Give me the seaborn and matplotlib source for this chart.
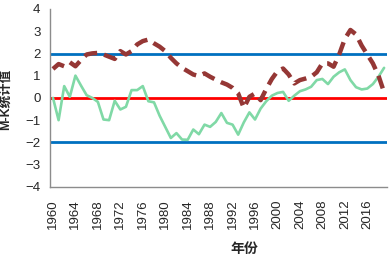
import numpy as np
import pandas as pd
import seaborn as sns
import matplotlib.pyplot as plt

years = list(range(1960, 2020))

uf = [0.0, -1.0, 0.53, 0.05, 1.0, 0.55, 0.12, 0.0, -0.18, -0.97,
      -1.0, -0.13, -0.52, -0.4, 0.35, 0.35, 0.53, -0.15, -0.2, -0.8,
      -1.3, -1.8, -1.58, -1.87, -1.88, -1.42, -1.63, -1.2, -1.3, -1.08,
      -0.68, -1.12, -1.2, -1.65, -1.1, -0.65, -0.97, -0.48, -0.15, 0.1,
      0.22, 0.27, -0.13, 0.1, 0.3, 0.38, 0.5, 0.8, 0.85, 0.62,
      0.95, 1.15, 1.28, 0.8, 0.48, 0.38, 0.42, 0.62, 0.95, 1.35]

ub = [1.3, 1.52, 1.42, 1.6, 1.42, 1.7, 1.95, 2.0, 2.02, 1.95,
      1.85, 1.75, 2.1, 1.95, 2.1, 2.4, 2.55, 2.62, 2.45, 2.3,
      2.1, 1.8, 1.55, 1.35, 1.2, 1.05, 0.98, 1.1, 0.95, 0.82,
      0.7, 0.6, 0.45, 0.2, -0.45, 0.05, 0.2, -0.1, 0.4, 0.85,
      1.2, 1.32, 1.05, 0.65, 0.8, 0.87, 0.95, 1.15, 1.55, 1.55,
      1.4, 1.95, 2.65, 3.05, 2.85, 2.35, 1.95, 1.55, 1.0, 0.25]

limite = 1.96
tick_years = list(range(1960, 2020, 4))

df = pd.DataFrame({'year': years, 'UF': uf, 'UB': ub})

sns.set_style('white')
plt.rcParams['font.family'] = ['Liberation Sans', 'Noto Sans CJK SC', 'DejaVu Sans']

fig, ax = plt.subplots(figsize=(3.92, 2.59), dpi=100)
fig.subplots_adjust(left=0.128, right=0.987, top=0.966, bottom=0.278)

# Líneas de referencia
ax.axhline(limite, color='#0070c0', lw=2.0, zorder=1)
ax.axhline(-limite, color='#0070c0', lw=2.0, zorder=1)
ax.axhline(0, color='#ff0000', lw=2.0, zorder=1)

sns.lineplot(data=df, x='year', y='UF', ax=ax, color='#80d9a6', lw=1.9, zorder=3)
sns.lineplot(data=df, x='year', y='UB', ax=ax, color='#953735', lw=3.2, zorder=4,
             dashes=False, linestyle=(0, (3.0, 1.6)))

ax.set_xlim(1959.5, 2019.5)
ax.set_ylim(-4, 4)
ax.set_yticks(range(-4, 5))
ax.set_xticks(tick_years)
ax.set_xticklabels([str(y) for y in tick_years], rotation=90)
ax.set_xticks(np.arange(1959.5, 2020, 4), minor=True)

ax.tick_params(axis='x', which='major', length=0, pad=9, labelsize=9.5)
ax.tick_params(axis='x', which='minor', length=5, width=1, color='#8c8c8c', direction='out')
ax.tick_params(axis='y', length=4, width=1, color='#8c8c8c', direction='out', pad=3, labelsize=9.5)

for s in ['top', 'right']:
    ax.spines[s].set_visible(False)
for s in ['left', 'bottom']:
    ax.spines[s].set_color('#8c8c8c')
    ax.spines[s].set_linewidth(1)

ax.set_ylabel('M-K统计值', fontsize=9, fontweight='bold')
ax.yaxis.set_label_coords(-0.115, 0.49)
ax.set_xlabel('年份', fontsize=10, fontweight='bold')
ax.xaxis.set_label_coords(0.576, -0.31)

plt.savefig('out.png', dpi=100)
